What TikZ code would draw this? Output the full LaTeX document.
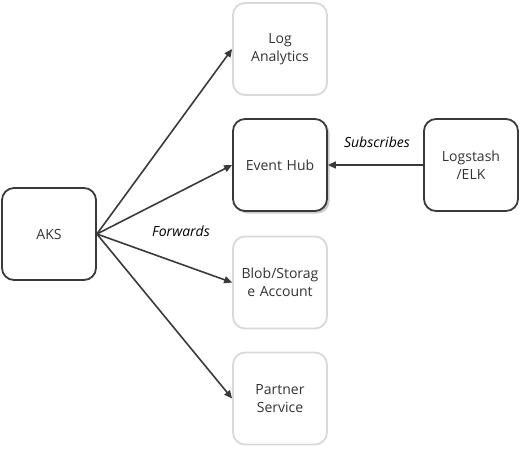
\documentclass[tikz,border=0pt]{standalone}
\usepackage{fontspec}
\setmainfont{Open Sans}
\usetikzlibrary{arrows.meta,shadows}
\definecolor{dk}{HTML}{3A3A3A}
\definecolor{lt}{HTML}{D9D9D9}
\definecolor{tx}{HTML}{333333}
\tikzset{
  box/.style={rounded corners=12pt, minimum width=94pt, minimum height=92pt, align=center, text width=92pt, inner xsep=1pt, font=\fontsize{14}{18}\selectfont, text=tx, line width=1.8pt, fill=white},
  darkbox/.style={box, draw=dk},
  lightbox/.style={box, draw=lt},
  shadowbox/.style={darkbox, drop shadow={shadow xshift=2.5pt, shadow yshift=-2.5pt, fill=black!45, opacity=0.45}},
  conn/.style={draw=dk, line width=1.6pt, -{Triangle[length=8pt,width=7pt]}},
  lbl/.style={font=\fontsize{14}{16}\selectfont\itshape, text=black}
}
\begin{document}
\begin{tikzpicture}[x=1pt,y=-1pt]
\useasboundingbox (0,0) rectangle (520,448);
\node[lightbox] (la) at (280,49) {Log\\Analytics};
\node[shadowbox] (eh) at (280,165) {Event Hub};
\node[lightbox] (blob) at (280,282.5) {Blob/Storag\\e Account};
\node[lightbox] (ps) at (280,398.5) {Partner\\Service};
\node[darkbox] (aks) at (49,234) {AKS};
\node[darkbox] (elk) at (471,165) {Logstash\\/ELK};
\coordinate (o) at (aks.east);
\draw[conn] (o) -- (la.west);
\draw[conn] (o) -- (eh.west);
\draw[conn] (o) -- (blob.west);
\draw[conn] (o) -- (ps.west);
\draw[conn] (elk.west) -- (eh.east);
\node[lbl] (fw) at (181,231) {Forwards};
\node[lbl] (sb) at (377,142) {Subscribes};
\end{tikzpicture}
\end{document}
